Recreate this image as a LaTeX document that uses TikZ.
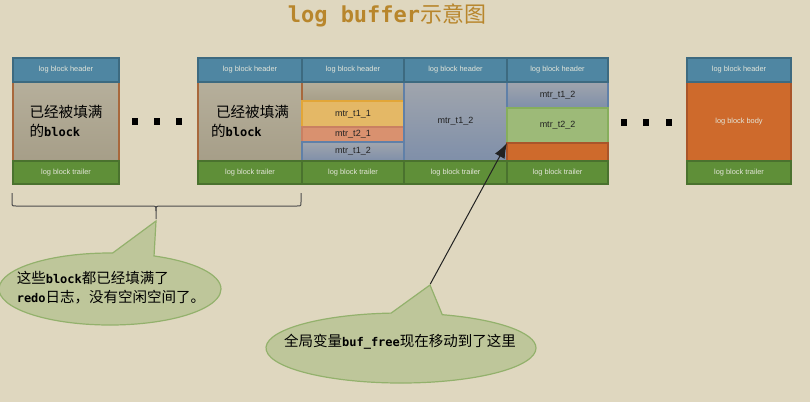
\documentclass[tikz,border=0pt]{standalone}
\usepackage{fontspec}
\setmainfont{Liberation Sans}
\newfontfamily\cjk{Noto Sans CJK SC}
\newfontfamily\monolat{DejaVu Sans Mono}
\usetikzlibrary{shapes.callouts,arrows.meta}
\definecolor{bg}{HTML}{DFD7BF}
\definecolor{hdrfill}{HTML}{4F86A2}
\definecolor{hdrline}{HTML}{3D6A80}
\definecolor{trlfill}{HTML}{5F8F38}
\definecolor{trlline}{HTML}{4A722E}
\definecolor{celltext}{HTML}{E4E6DA}
\definecolor{grayfillA}{HTML}{B6AF9B}
\definecolor{grayfillB}{HTML}{A69E88}
\definecolor{brownline}{HTML}{A8683C}
\definecolor{yelfill}{HTML}{E4B866}
\definecolor{yelline}{HTML}{E2A638}
\definecolor{salfill}{HTML}{D9916F}
\definecolor{salline}{HTML}{C98062}
\definecolor{blueA}{HTML}{A0A5AD}
\definecolor{blueB}{HTML}{7F8FA9}
\definecolor{blueline}{HTML}{6080A8}
\definecolor{grnfill}{HTML}{9DBA78}
\definecolor{grnline}{HTML}{86AE5C}
\definecolor{orgfill}{HTML}{CE6A2C}
\definecolor{orgline}{HTML}{A9552A}
\definecolor{callfill}{HTML}{BEC69A}
\definecolor{callline}{HTML}{93B16C}
\definecolor{titlec}{HTML}{B8862C}
\definecolor{darktext}{HTML}{222222}
\newcommand\lat[1]{{\monolat\bfseries\fontsize{12}{19}\selectfont #1}}
\newcommand\mkcell[7]{%
  \pgfmathsetmacro\cellw{#4-#2}%
  \pgfmathsetmacro\cellh{#5-#3}%
  \node[#6,minimum width=\cellw pt,minimum height=\cellh pt] (#1) at (#2,#3) {#7};}
\newcommand\fulltxt{已经被填满\\的\lat{block}}
\begin{document}
\begin{tikzpicture}[x=1pt,y=-1pt,
  cellbase/.style={inner sep=0pt,outer sep=0pt,line width=1.5pt,anchor=north west},
  hdr/.style={cellbase,fill=hdrfill,draw=hdrline,text=celltext,font=\fontsize{7.4}{8}\selectfont},
  trl/.style={cellbase,fill=trlfill,draw=trlline,text=celltext,font=\fontsize{7.4}{8}\selectfont},
  fullbody/.style={cellbase,top color=grayfillA,bottom color=grayfillB,draw=brownline,
    align=left,text=black,font=\cjk\fontsize{14.6}{19}\selectfont},
  graypart/.style={cellbase,top color=grayfillA,bottom color=grayfillB,draw=brownline},
  mtrtext/.style={text=darktext,font=\fontsize{9}{10}\selectfont},
  yelcell/.style={cellbase,mtrtext,fill=yelfill,draw=yelline},
  salcell/.style={cellbase,mtrtext,fill=salfill,draw=salline},
  bluecell/.style={cellbase,mtrtext,top color=blueA,bottom color=blueB,draw=blueline},
  grncell/.style={cellbase,mtrtext,fill=grnfill,draw=grnline},
  orgcell/.style={cellbase,fill=orgfill,draw=orgline,text=celltext,font=\fontsize{7.4}{8}\selectfont},
  dotbox/.style={fill=black,inner sep=0pt,minimum width=6pt,minimum height=7pt},
  bracestyle/.style={draw=black!70,line width=1pt},
  callbox/.style={ellipse callout,fill=callfill,draw=callline,line width=1.2pt,inner sep=0pt},
  calltext/.style={inner sep=0pt,align=left,text=black,font=\cjk\fontsize{14.5}{19}\selectfont},
  ptr/.style={draw=darktext,line width=1pt,-{Latex[length=15pt,width=11pt]}}
]
\useasboundingbox[fill=bg] (0,0) rectangle (810,402);
% title
\node[text=titlec,font=\fontsize{22}{24}\selectfont,inner sep=0pt] (title) at (387,15)
  {{\monolat\bfseries log buffer}{\cjk 示意图}};
% bodies
\mkcell{b1b}{13}{82}{119}{161}{fullbody}{\fulltxt}
\mkcell{b2b}{198}{82}{302}{161}{fullbody}{\hspace*{5pt}\fulltxt}
\mkcell{b3g}{302}{82}{404}{101}{graypart}{}
\mkcell{b3y}{302}{101}{404}{127}{yelcell}{mtr\_t1\_1}
\mkcell{b3s}{302}{127}{404}{142}{salcell}{mtr\_t2\_1}
\mkcell{b3b}{302}{142}{404}{161}{bluecell}{mtr\_t1\_2}
\mkcell{b4b}{404}{82}{507}{161}{bluecell}{mtr\_t1\_2}
\mkcell{b5b}{507}{82}{608}{108}{bluecell}{mtr\_t1\_2}
\mkcell{b5g}{507}{108}{608}{143}{grncell}{mtr\_t2\_2}
\mkcell{b5o}{507}{143}{608}{161}{orgcell}{}
\mkcell{b6b}{687}{82}{791}{161}{orgcell}{log block body}
% headers
\mkcell{b1h}{13}{58}{119}{82}{hdr}{log block header}
\mkcell{b2h}{198}{58}{302}{82}{hdr}{log block header}
\mkcell{b3h}{302}{58}{404}{82}{hdr}{log block header}
\mkcell{b4h}{404}{58}{507}{82}{hdr}{log block header}
\mkcell{b5h}{507}{58}{608}{82}{hdr}{log block header}
\mkcell{b6h}{687}{58}{791}{82}{hdr}{log block header}
% trailers
\mkcell{b1t}{13}{161}{119}{184}{trl}{log block trailer}
\mkcell{b2t}{198}{161}{302}{184}{trl}{log block trailer}
\mkcell{b3t}{302}{161}{404}{184}{trl}{log block trailer}
\mkcell{b4t}{404}{161}{507}{184}{trl}{log block trailer}
\mkcell{b5t}{507}{161}{608}{184}{trl}{log block trailer}
\mkcell{b6t}{687}{161}{791}{184}{trl}{log block trailer}
% dots
\node[dotbox] (d1) at (134.5,121.5) {};
\node[dotbox] (d2) at (157,121.5) {};
\node[dotbox] (d3) at (179,121.5) {};
\node[dotbox] (d4) at (624,122) {};
\node[dotbox] (d5) at (646,122) {};
\node[dotbox] (d6) at (669,122) {};
% brace
\coordinate (brtip) at (156,219);
\draw[bracestyle] (12,193) -- (12,202) .. controls (12,206) .. (16,206) -- (151,206)
  .. controls (156,206) .. (156,211) -- (brtip);
\draw[bracestyle] (156,211) .. controls (156,206) .. (161,206) -- (297,206)
  .. controls (301,206) .. (301,202) -- (301,193);
% callouts
\node[callbox,minimum width=222pt,minimum height=72pt,callout pointer arc=22,
  callout absolute pointer={(156,221)}] (c1) at (110,289) {};
\node[calltext] (c1t) at (111,288)
  {这些\lat{block}都已经填满了\\\lat{redo}日志，没有空闲空间了。};
\node[callbox,minimum width=270pt,minimum height=70pt,callout pointer arc=22,
  callout absolute pointer={(430,285)}] (c2) at (401,348) {};
\node[calltext] (c2t) at (400,342) {全局变量\lat{buf\_free}现在移动到了这里};
% arrow
\coordinate (ftip) at (507,143);
\draw[ptr] (c2.pointer) -- (ftip);
\end{tikzpicture}
\end{document}
